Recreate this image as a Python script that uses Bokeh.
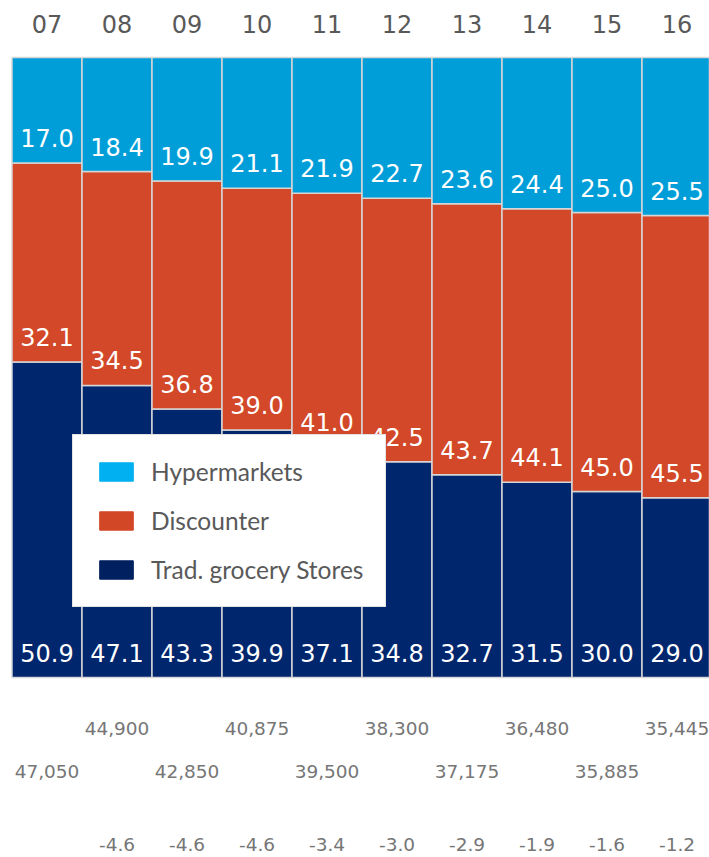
from bokeh.plotting import figure
from bokeh.models import ColumnDataSource, Range1d, Legend, LegendItem
from bokeh.core.properties import value
from bokeh.embed import file_html
from bokeh.resources import INLINE

# ---- data ----
years = ["07", "08", "09", "10", "11", "12", "13", "14", "15", "16"]
hypermarkets = [17.0, 18.4, 19.9, 21.1, 21.9, 22.7, 23.6, 24.4, 25.0, 25.5]
discounter = [32.1, 34.5, 36.8, 39.0, 41.0, 42.5, 43.7, 44.1, 45.0, 45.5]
trad_grocery = [50.9, 47.1, 43.3, 39.9, 37.1, 34.8, 32.7, 31.5, 30.0, 29.0]
totals = [47050, 44900, 42850, 40875, 39500, 38300, 37175, 36480, 35885, 35445]
growth = [None, -4.6, -4.6, -4.6, -3.4, -3.0, -2.9, -1.9, -1.6, -1.2]

# ---- layout constants (pixels) ----
W, H = 709, 857
BAR_PX = 70.0          # pixels per bar
FRAME_LEFT = 11.5      # left edge of first bar
FRAME_TOP = 57.0       # top of bars
FRAME_BOTTOM = 677.0   # bottom of bars
PX_PER_UNIT = (FRAME_BOTTOM - FRAME_TOP) / 100.0

x0 = -0.5 - FRAME_LEFT / BAR_PX
y_top = 100 + FRAME_TOP / PX_PER_UNIT
y_bot = -(H - FRAME_BOTTOM) / PX_PER_UNIT

C_HYP = "#009ED8"
C_DIS = "#D24828"
C_TRA = "#00266E"
L_HYP = "#00B0F0"
L_DIS = "#D24726"
L_TRA = "#002060"
EDGE = "#d6d6d6"

xs = list(range(len(years)))
b_dis = [t for t in trad_grocery]
b_hyp = [t + d for t, d in zip(trad_grocery, discounter)]
t_hyp = [b + h for b, h in zip(b_hyp, hypermarkets)]

src = ColumnDataSource(dict(
    x=xs, year=years,
    tra_top=trad_grocery, dis_bot=b_dis, dis_top=b_hyp, hyp_bot=b_hyp, hyp_top=t_hyp,
    zero=[0] * len(xs), hundred=[100] * len(xs),
    tra_lab=[f"{v:.1f}" for v in trad_grocery],
    dis_lab=[f"{v:.1f}" for v in discounter],
    hyp_lab=[f"{v:.1f}" for v in hypermarkets],
))

p = figure(width=W, height=H, output_backend="svg", toolbar_location=None,
           x_range=Range1d(x0, x0 + W / BAR_PX), y_range=Range1d(y_bot, y_top),
           x_axis_type=None, y_axis_type=None,
           min_border=0, min_border_left=0, min_border_right=0,
           min_border_top=0, min_border_bottom=0,
           outline_line_color=None, background_fill_color="white",
           border_fill_color="white")
p.grid.visible = False

p.vbar(x="x", bottom="zero", top="tra_top", width=1, source=src,
       fill_color=C_TRA, line_color=EDGE, line_width=1.5)
p.vbar(x="x", bottom="dis_bot", top="dis_top", width=1, source=src,
       fill_color=C_DIS, line_color=EDGE, line_width=1.5)
p.vbar(x="x", bottom="hyp_bot", top="hyp_top", width=1, source=src,
       fill_color=C_HYP, line_color=EDGE, line_width=1.5)

num_font = value("DejaVu Sans")
for ycol, tcol in (("zero", "tra_lab"), ("dis_bot", "dis_lab"), ("hyp_bot", "hyp_lab")):
    p.text(x="x", y=ycol, text=tcol, source=src, text_font=num_font,
           text_font_size="24px", text_color="white", text_align="center",
           text_baseline="alphabetic", y_offset=-25)

# year labels on top
p.text(x="x", y="hundred", text="year", source=src, text_font=num_font,
       text_font_size="24px", text_color="#595959", text_align="center",
       text_baseline="alphabetic", y_offset=-34)

# totals, alternating rows
odd_x = [x for x in xs if x % 2 == 1]
even_x = [x for x in xs if x % 2 == 0]
tot_src_odd = ColumnDataSource(dict(x=odd_x, y=[0] * len(odd_x),
                                    t=[f"{totals[i]:,}" for i in odd_x]))
tot_src_even = ColumnDataSource(dict(x=even_x, y=[0] * len(even_x),
                                     t=[f"{totals[i]:,}" for i in even_x]))
for s, off in ((tot_src_odd, 51), (tot_src_even, 94)):
    p.text(x="x", y="y", text="t", source=s, text_font=num_font,
           text_font_size="18.5px", text_color="#767676", text_align="center",
           text_baseline="alphabetic", y_offset=off)

g_x = [i for i in xs if growth[i] is not None]
g_src = ColumnDataSource(dict(x=g_x, y=[0] * len(g_x),
                              t=[f"{growth[i]:.1f}" for i in g_x]))
p.text(x="x", y="y", text="t", source=g_src, text_font=num_font,
       text_font_size="18.5px", text_color="#767676", text_align="center",
       text_baseline="alphabetic", y_offset=167)

# legend with its own swatch colours (one far off-screen bar each)
def swatch(color):
    s = ColumnDataSource(dict(x=[-500], bottom=[-5000], top=[-4999]))
    return p.vbar(x="x", bottom="bottom", top="top", width=1, source=s,
                  fill_color=color, line_color=color)

r_h = swatch(L_HYP)
r_d = swatch(L_DIS)
r_t = swatch(L_TRA)

legend = Legend(items=[LegendItem(label="Hypermarkets", renderers=[r_h]),
                       LegendItem(label="Discounter", renderers=[r_d]),
                       LegendItem(label="Trad. grocery Stores", renderers=[r_t])],
                location=(72, 250), margin=0, padding=22,
                glyph_width=42, glyph_height=23, label_height=23,
                label_standoff=14, spacing=20,
                label_text_font="Lato", label_text_font_size="24.5px",
                label_text_color="#595959",
                border_line_color="#c8c8c8", border_line_width=1.5,
                background_fill_color="white", background_fill_alpha=1.0)
p.add_layout(legend)

open("out.html", "w").write(file_html(p, INLINE))
